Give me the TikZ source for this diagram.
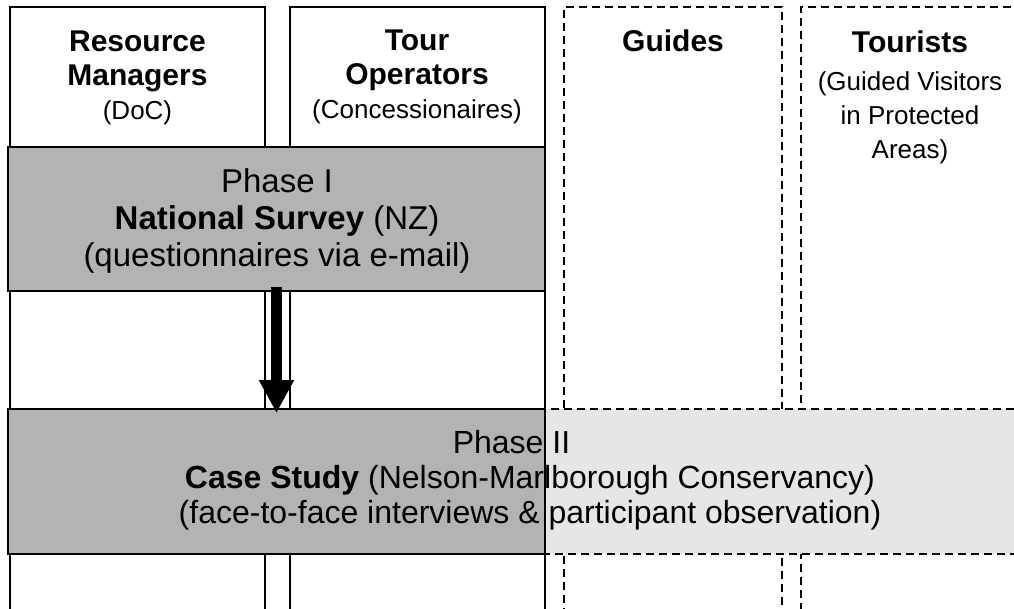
\documentclass[tikz,border=0pt]{standalone}
\usepackage{fontspec}
\setmainfont{Liberation Sans}
\usetikzlibrary{arrows.meta}
\definecolor{phasedark}{HTML}{B3B3B3}
\definecolor{phaselight}{HTML}{E6E6E6}
\tikzset{
  solidline/.style={draw=black, line width=2pt},
  dashline/.style={draw=black, line width=2pt, dash pattern=on 8pt off 5pt},
  box/.style={rectangle, inner sep=0pt, outer sep=0pt, anchor=north west},
  head/.style={align=center, anchor=north, inner sep=0pt,
    font=\fontsize{30}{34}\selectfont\bfseries},
  phasetext/.style={align=center, inner sep=0pt},
  bigarrow/.style={line width=11pt, -{Triangle[width=33pt,length=33pt]}},
}
\newcommand{\subline}{\fontsize{26}{31}\selectfont\mdseries}
\begin{document}
\begin{tikzpicture}[x=1pt,y=-1pt]
  \useasboundingbox (0,0) rectangle (1014,608);
  \clip (0,0) rectangle (1014,608);

  % stakeholder columns
  \node[box, solidline, minimum width=255pt, minimum height=640pt] (col1) at (10,7) {};
  \node[box, solidline, minimum width=255pt, minimum height=640pt] (col2) at (290,7) {};
  \node[box, dashline, minimum width=218pt, minimum height=640pt] (col3) at (564,7) {};
  \node[box, dashline, minimum width=240pt, minimum height=640pt] (col4) at (801,7) {};

  % column headings
  \node[head] (h1) at (137.5,31) {Resource\\Managers\\\subline (DoC)};
  \node[head] (h2) at (417,30) {Tour\\Operators\\\subline (Concessionaires)};
  \node[head] (h3) at (673,30) {Guides};
  \node[head] (h4) at (910,30.5) {Tourists\\[4pt]\subline (Guided Visitors\\\subline in Protected\\\subline Areas)};

  % phase I
  \node[box, solidline, fill=phasedark, minimum width=537pt, minimum height=144pt] (p1) at (8,147) {};
  \node[phasetext, font=\fontsize{33}{37}\selectfont] (p1text) at (277,221)
    {Phase I\\\textbf{National Survey} (NZ)\\(questionnaires via e-mail)};

  % phase II: fills, text, then borders on top
  \node[box, fill=phasedark, minimum width=537pt, minimum height=145pt] (p2dark) at (8,409) {};
  \node[box, fill=phaselight, minimum width=495pt, minimum height=145pt] (p2light) at (545,409) {};
  \node[phasetext, font=\fontsize{32}{35}\selectfont] (p2text) at (530,480)
    {Phase II\hspace*{37pt}\\\textbf{Case Study} (Nelson-Marlborough Conservancy)\\(face-to-face interviews \& participant observation)};
  \draw[dashline] (p2light.north east) -- (p2light.north west) -- (p2light.south west) -- (p2light.south east);
  \draw[solidline] (p2dark.north west) rectangle (p2dark.south east);

  % sequence arrow
  \draw[bigarrow] ([yshift=4pt]p1.south) -- ([yshift=-4pt]p1.south |- p2dark.north);
\end{tikzpicture}
\end{document}
